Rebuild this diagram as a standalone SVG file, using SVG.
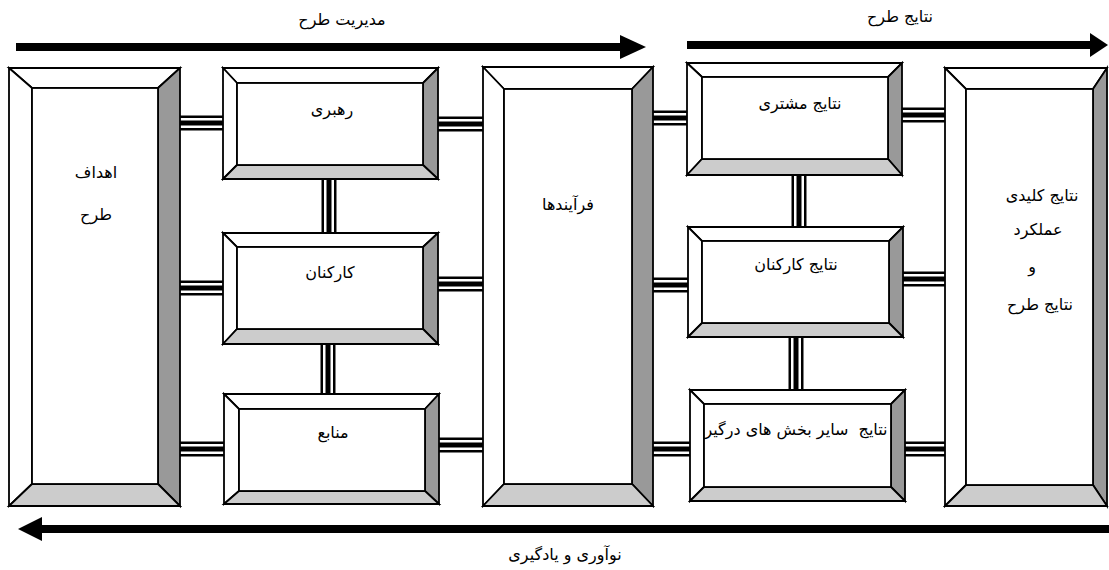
<svg xmlns="http://www.w3.org/2000/svg" width="1109" height="570" viewBox="0 0 1109 570">
<style>
.bv{stroke:#000;stroke-width:1.8;stroke-linejoin:miter}
.lt{fill:#fff}.dk{fill:#999}.md{fill:#ccc}
.c1{stroke:#000;stroke-width:15;fill:none}
.c2{stroke:#fff;stroke-width:10;fill:none}
.c3{stroke:#000;stroke-width:5;fill:none}
.t{font-family:"DejaVu Sans","Noto Sans",sans-serif;font-size:16px;fill:#000;text-anchor:middle;white-space:pre}
.ar{stroke:#000;stroke-width:8;fill:none}
</style>
<rect width="1109" height="570" fill="#fff"/>
<g id="connectors">
<g><path class="c1" d="M180 123H223"/><path class="c2" d="M180 123H223"/><path class="c3" d="M180 123H223"/></g>
<g><path class="c1" d="M180 288H223"/><path class="c2" d="M180 288H223"/><path class="c3" d="M180 288H223"/></g>
<g><path class="c1" d="M180 449H224"/><path class="c2" d="M180 449H224"/><path class="c3" d="M180 449H224"/></g>
<g><path class="c1" d="M438 124H483"/><path class="c2" d="M438 124H483"/><path class="c3" d="M438 124H483"/></g>
<g><path class="c1" d="M438 284H483"/><path class="c2" d="M438 284H483"/><path class="c3" d="M438 284H483"/></g>
<g><path class="c1" d="M439 445H483"/><path class="c2" d="M439 445H483"/><path class="c3" d="M439 445H483"/></g>
<g><path class="c1" d="M653 118H687"/><path class="c2" d="M653 118H687"/><path class="c3" d="M653 118H687"/></g>
<g><path class="c1" d="M653 285H688"/><path class="c2" d="M653 285H688"/><path class="c3" d="M653 285H688"/></g>
<g><path class="c1" d="M653 449H690"/><path class="c2" d="M653 449H690"/><path class="c3" d="M653 449H690"/></g>
<g><path class="c1" d="M902 115H945"/><path class="c2" d="M902 115H945"/><path class="c3" d="M902 115H945"/></g>
<g><path class="c1" d="M903 279H945"/><path class="c2" d="M903 279H945"/><path class="c3" d="M903 279H945"/></g>
<g><path class="c1" d="M905 449H945"/><path class="c2" d="M905 449H945"/><path class="c3" d="M905 449H945"/></g>
<g><path class="c1" d="M329 179V233"/><path class="c2" d="M329 179V233"/><path class="c3" d="M329 179V233"/></g>
<g><path class="c1" d="M328 344V394"/><path class="c2" d="M328 344V394"/><path class="c3" d="M328 344V394"/></g>
<g><path class="c1" d="M799 175V227"/><path class="c2" d="M799 175V227"/><path class="c3" d="M799 175V227"/></g>
<g><path class="c1" d="M796 337V390"/><path class="c2" d="M796 337V390"/><path class="c3" d="M796 337V390"/></g>
</g>
<g id="arrows">
<path class="ar" d="M16 47H622"/><polygon points="620,35 646,47 620,59" fill="#000"/>
<path class="ar" d="M687 45H1092"/><polygon points="1090,33 1108,45 1090,57" fill="#000"/>
<path class="ar" d="M1109 529H40"/><polygon points="42,517 18,529 42,541" fill="#000"/>
</g>
<g id="goals">
<polygon class="bv lt" points="9,68 180,68 158,88 32,88"/>
<polygon class="bv lt" points="9,68 32,88 32,484 9,506"/>
<polygon class="bv dk" points="180,68 180,506 158,484 158,88"/>
<polygon class="bv md" points="9,506 32,484 158,484 180,506"/>
<rect class="bv lt" x="32" y="88" width="126" height="396"/>
<text class="t" x="96" y="178">اهداف</text>
<text class="t" x="96" y="220">طرح</text>
</g>
<g id="leadership">
<polygon class="bv lt" points="223,68 438,68 423,83 237,83"/>
<polygon class="bv lt" points="223,68 237,83 237,165 223,179"/>
<polygon class="bv dk" points="438,68 438,179 423,165 423,83"/>
<polygon class="bv md" points="223,179 237,165 423,165 438,179"/>
<rect class="bv lt" x="237" y="83" width="186" height="82"/>
<text class="t" x="332" y="115">رهبری</text>
</g>
<g id="staff">
<polygon class="bv lt" points="223,233 438,233 423,247 237,247"/>
<polygon class="bv lt" points="223,233 237,247 237,329 223,344"/>
<polygon class="bv dk" points="438,233 438,344 423,329 423,247"/>
<polygon class="bv md" points="223,344 237,329 423,329 438,344"/>
<rect class="bv lt" x="237" y="247" width="186" height="82"/>
<text class="t" x="330" y="278">کارکنان</text>
</g>
<g id="resources">
<polygon class="bv lt" points="224,394 439,394 425,409 239,409"/>
<polygon class="bv lt" points="224,394 239,409 239,491 224,504"/>
<polygon class="bv dk" points="439,394 439,504 425,491 425,409"/>
<polygon class="bv md" points="224,504 239,491 425,491 439,504"/>
<rect class="bv lt" x="239" y="409" width="186" height="82"/>
<text class="t" x="333" y="438">منابع</text>
</g>
<g id="processes">
<polygon class="bv lt" points="483,67 653,67 632,89 504,89"/>
<polygon class="bv lt" points="483,67 504,89 504,484 483,506"/>
<polygon class="bv dk" points="653,67 653,506 632,484 632,89"/>
<polygon class="bv md" points="483,506 504,484 632,484 653,506"/>
<rect class="bv lt" x="504" y="89" width="128" height="395"/>
<text class="t" x="568" y="210">فرآیندها</text>
</g>
<g id="customer-results">
<polygon class="bv lt" points="687,63 902,63 888,77 702,77"/>
<polygon class="bv lt" points="687,63 702,77 702,159 687,175"/>
<polygon class="bv dk" points="902,63 902,175 888,159 888,77"/>
<polygon class="bv md" points="687,175 702,159 888,159 902,175"/>
<rect class="bv lt" x="702" y="77" width="186" height="82"/>
<text class="t" x="800" y="109">نتایج مشتری</text>
</g>
<g id="staff-results">
<polygon class="bv lt" points="688,227 903,227 889,241 702,241"/>
<polygon class="bv lt" points="688,227 702,241 702,323 688,337"/>
<polygon class="bv dk" points="903,227 903,337 889,323 889,241"/>
<polygon class="bv md" points="688,337 702,323 889,323 903,337"/>
<rect class="bv lt" x="702" y="241" width="187" height="82"/>
<text class="t" x="796" y="270">نتایج کارکنان</text>
</g>
<g id="other-results">
<polygon class="bv lt" points="690,390 905,390 891,404 704,404"/>
<polygon class="bv lt" points="690,390 704,404 704,487 690,501"/>
<polygon class="bv dk" points="905,390 905,501 891,487 891,404"/>
<polygon class="bv md" points="690,501 704,487 891,487 905,501"/>
<rect class="bv lt" x="704" y="404" width="187" height="83"/>
<text class="t" x="796" y="435">نتایج  سایر بخش های درگیر</text>
</g>
<g id="key-results">
<polygon class="bv lt" points="945,68 1107,68 1093,89 966,89"/>
<polygon class="bv lt" points="945,68 966,89 966,485 945,506"/>
<polygon class="bv dk" points="1107,68 1107,506 1093,485 1093,89"/>
<polygon class="bv md" points="945,506 966,485 1093,485 1107,506"/>
<rect class="bv lt" x="966" y="89" width="127" height="396"/>
<text class="t" x="1042" y="201">نتایج کلیدی</text>
<text class="t" x="1038" y="235">عملکرد</text>
<text class="t" x="1032" y="272">و</text>
<text class="t" x="1040" y="310">نتایج طرح</text>
</g>
<g id="labels">
<text class="t" x="342" y="25">مدیریت طرح</text>
<text class="t" x="900" y="22">نتایج طرح</text>
<text class="t" x="565" y="560">نوآوری و یادگیری</text>
</g>
</svg>
